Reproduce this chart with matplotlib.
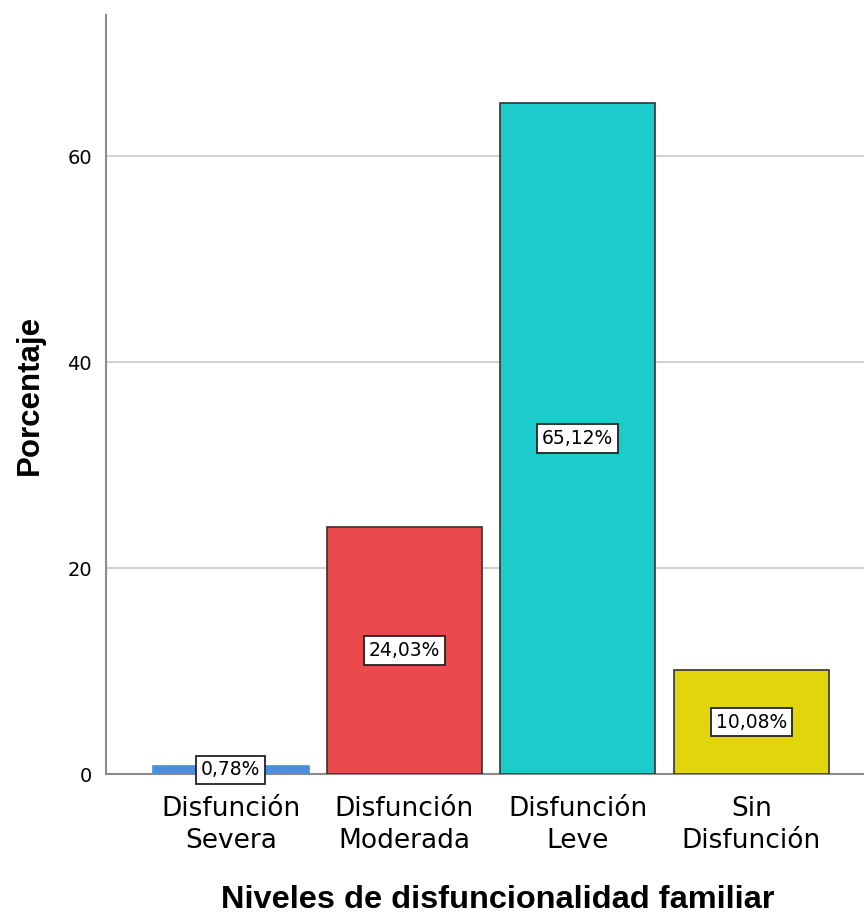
import numpy as np
import matplotlib.pyplot as plt

# data
categorias = ['Disfunción\nSevera', 'Disfunción\nModerada', 'Disfunción\nLeve', 'Sin\nDisfunción']
porcentajes = [0.78, 24.03, 65.12, 10.08]
etiquetas = ['0,78%', '24,03%', '65,12%', '10,08%']
colores = ['#4a8ee0', '#ea4a4c', '#1ccccc', '#e2d50c']

fig = plt.figure(figsize=(8.64, 9.16), dpi=100)
ax = fig.add_axes([106 / 864, 1 - 774 / 916, 1 - 106 / 864, (774 - 15) / 916])

x = np.arange(len(categorias))
bars = ax.bar(x, porcentajes, width=0.895, color=colores, edgecolor='#333333', linewidth=1.2, zorder=3)
bars[0].set_edgecolor(colores[0])

for xi, v, lab in zip(x, porcentajes, etiquetas):
    ax.text(xi, v / 2, lab, ha='center', va='center', fontsize=13.5, family='DejaVu Sans',
            zorder=5, bbox=dict(facecolor='white', edgecolor='#222222', linewidth=1.3, pad=3.5))

ax.set_xlim(-0.72, 3.65)
ax.set_ylim(0, 73.7)
ax.set_yticks([0, 20, 40, 60])
ax.yaxis.grid(True, color='#c8c8c8', linewidth=1.2, zorder=0)
ax.set_xticks(x)
ax.set_xticklabels(categorias, fontsize=19, family='DejaVu Sans', linespacing=1.3)
ax.tick_params(axis='both', length=0)
ax.tick_params(axis='y', labelsize=14, pad=10)
ax.tick_params(axis='x', pad=16)

for s in ['top', 'right']:
    ax.spines[s].set_visible(False)
ax.spines['left'].set_color('#8c8c8c')
ax.spines['bottom'].set_color('#8c8c8c')
ax.spines['left'].set_linewidth(1.5)
ax.spines['bottom'].set_linewidth(1.5)

ax.set_ylabel('Porcentaje', fontsize=22.5, fontweight='bold', family='Liberation Sans', labelpad=16)
ax.set_xlabel('Niveles de disfuncionalidad familiar', fontsize=23.4, fontweight='bold',
              family='Liberation Sans')
# x label sits a bit right of the axes centre, near the bottom edge
ax.xaxis.set_label_coords((498 - 106) / (864 - 106), -(900 - 774) / (774 - 15), transform=ax.transAxes)
ax.xaxis.label.set_va('center')

fig.savefig('out.png', dpi=100)
